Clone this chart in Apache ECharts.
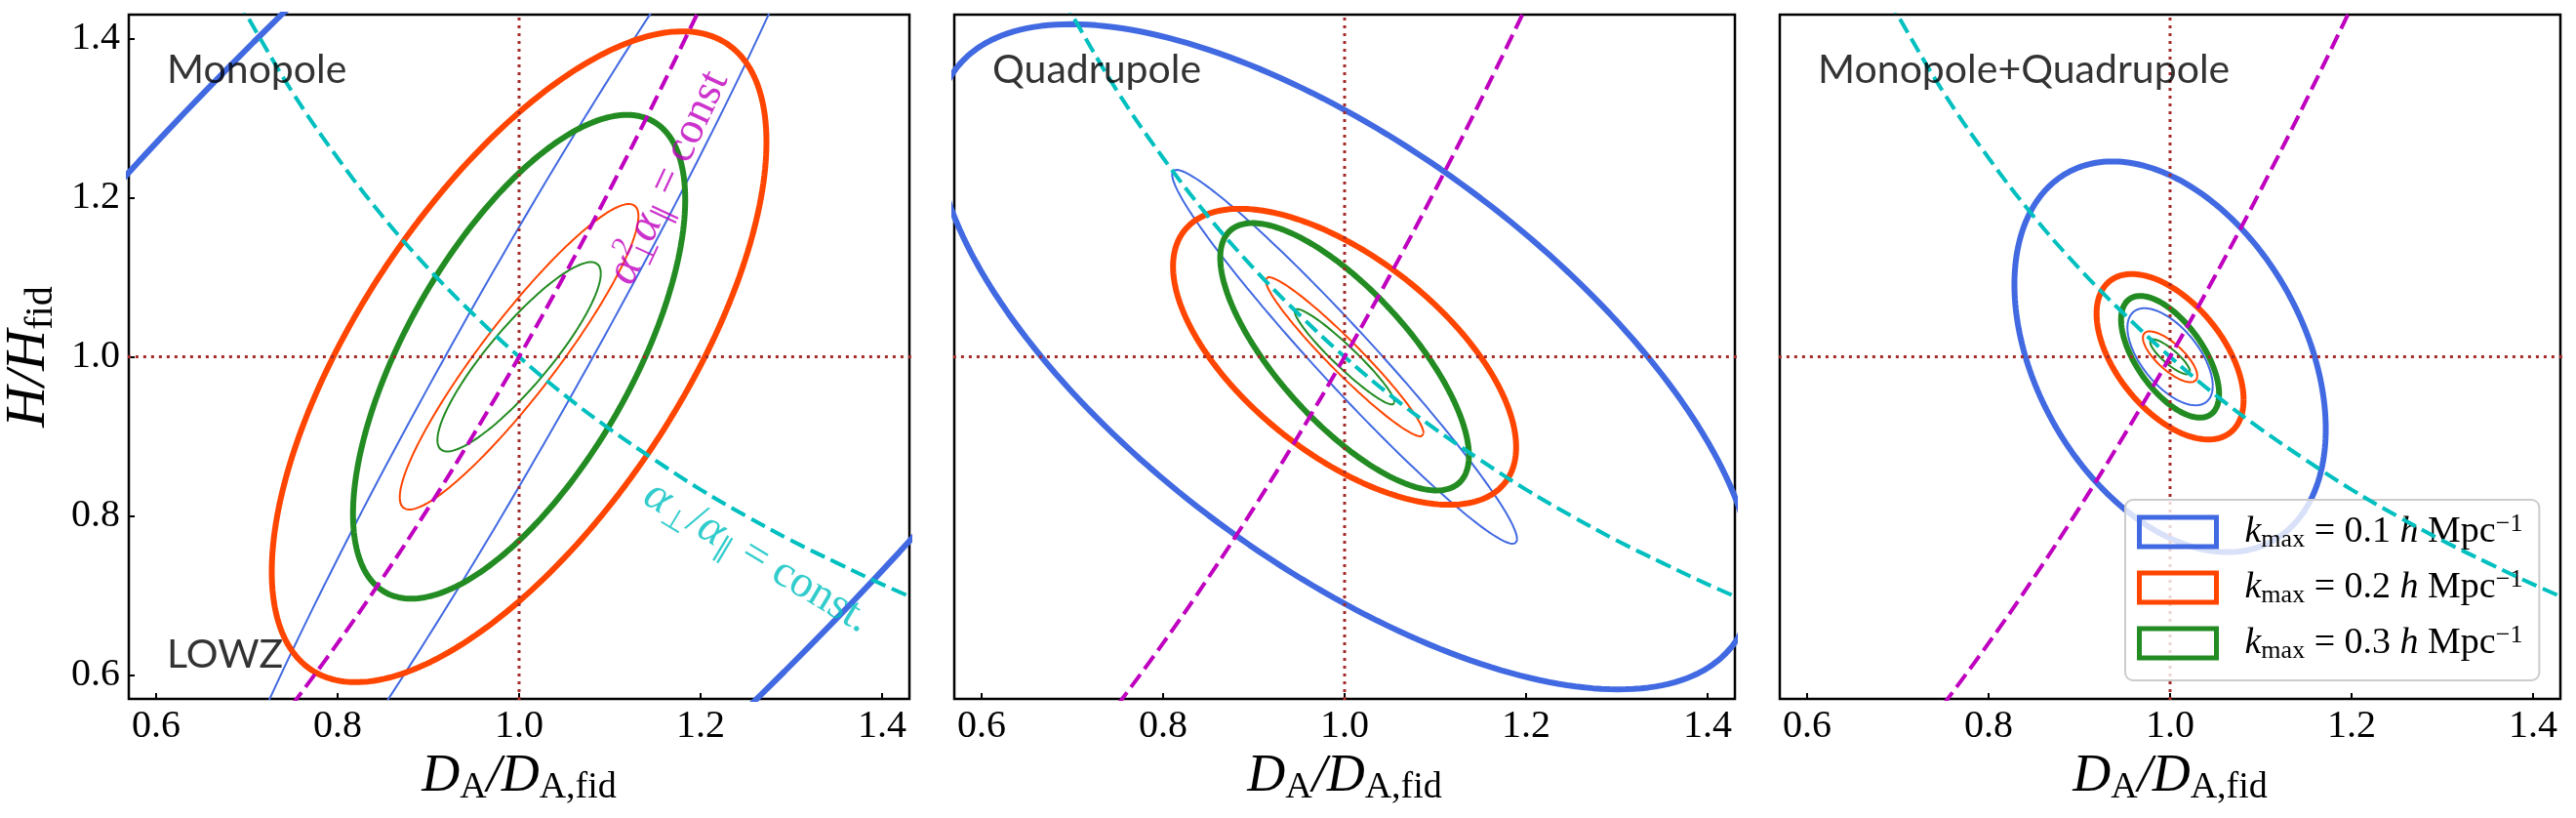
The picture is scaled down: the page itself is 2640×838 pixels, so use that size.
<!DOCTYPE html>
<html>
<head>
<meta charset="utf-8">
<script src="https://cdn.jsdelivr.net/npm/echarts@6/dist/echarts.min.js"></script>
<style>
  html, body { margin: 0; padding: 0; background: #fff; }
  #chart { width: 2640px; height: 838px; }
</style>
</head>
<body>
<div id="chart"></div>
<script>
// ---- data ----
var panelNames = ['Monopole', 'Quadrupole', 'Monopole+Quadrupole'];
var sampleName = 'LOWZ';
var kNames = ['k01', 'k02', 'k03'];
var kLabels = ['0.1', '0.2', '0.3'];
var tickValues = [0.6, 0.8, 1.0, 1.2, 1.4];

// error ellipses: [cx, cy, half x-extent, half y-extent, correlation], order k=0.1,0.2,0.3
var monoThick = [[1, 1, 1.03, 1.19, 0.81], [1, 1, 0.2725, 0.409, 0.66], [1, 1, 0.183, 0.304, 0.65]];
var monoThin  = [[1, 1, 0.36, 0.72, 0.974], [1, 1, 0.1315, 0.192, 0.92], [1, 1, 0.09, 0.119, 0.88]];
var quadThick = [[1, 1, 0.45, 0.418, -0.67], [1, 1, 0.189, 0.186, -0.61], [1, 1, 0.137, 0.168, -0.74]];
var quadThin  = [[1, 1, 0.19, 0.235, -0.975], [1, 1, 0.087, 0.10, -0.96], [1, 1, 0.055, 0.06, -0.95]];
var combThick = [[1, 1, 0.1715, 0.2455, -0.37], [1, 1, 0.081, 0.104, -0.52], [1, 1, 0.054, 0.0765, -0.61]];
var combThin  = [[1, 1, 0.047, 0.061, -0.6], [1, 1, 0.03, 0.032, -0.75], [1, 1, 0.022, 0.022, -0.85]];

// alpha_perp / alpha_par = const  (cyan)
var cyanX = [0.69, 0.70, 0.75, 0.80, 0.85, 0.90, 0.95, 1.00, 1.05, 1.10, 1.15, 1.20, 1.25, 1.30, 1.35, 1.40, 1.44];
var cyanY = [1.449, 1.429, 1.333, 1.25, 1.176, 1.111, 1.053, 1.0, 0.952, 0.909, 0.870, 0.833, 0.80, 0.769, 0.741, 0.714, 0.694];
// alpha_perp^2 alpha_par = const  (magenta)
var magX = [0.75, 0.80, 0.85, 0.90, 0.95, 1.00, 1.05, 1.10, 1.15, 1.20];
var magY = [0.5625, 0.64, 0.7225, 0.81, 0.9025, 1.0, 1.1025, 1.21, 1.3225, 1.44];

var colors = ['#4169e1', '#ff4500', '#228b22'];
var serif = 'Liberation Serif';

function ellipse(e) {
    var pts = [];
    var s = Math.sqrt(1 - e[4] * e[4]);
    for (var i = 0; i <= 240; i++) {
        var t = 2 * Math.PI * i / 240;
        pts.push([e[0] + e[2] * Math.cos(t), e[1] + e[3] * (e[4] * Math.cos(t) + s * Math.sin(t))]);
    }
    return pts;
}
function zip(xs, ys) {
    return xs.map(function (x, i) { return [x, ys[i]]; });
}

var chart = echarts.init(document.getElementById('chart'));

var gridLefts = [132, 978, 1824];
var grids = [], xAxes = [], yAxes = [], series = [];
var thickSets = [monoThick, quadThick, combThick];
var thinSets = [monoThin, quadThin, combThin];

var subRich = {
    i: { fontFamily: serif, fontStyle: 'italic', fontSize: 54, lineHeight: 60, color: '#000' },
    s: { fontFamily: serif, fontSize: 38, lineHeight: 34, verticalAlign: 'bottom', color: '#000' }
};

for (var p = 0; p < 3; p++) {
    grids.push({ left: gridLefts[p], top: 15, width: 800, height: 701, show: true,
        borderColor: '#000', borderWidth: 2.5, backgroundColor: 'transparent' });
    xAxes.push({
        gridIndex: p, type: 'value', min: 0.57, max: 1.43,
        name: '{i|D}{s|A}{i|/D}{s|A,fid}', nameLocation: 'middle', nameGap: 44,
        nameTextStyle: { rich: subRich },
        axisLine: { show: false },
        splitLine: { show: false },
        axisTick: { show: true, inside: true, length: 6, customValues: tickValues,
            lineStyle: { color: '#000', width: 2 } },
        axisLabel: { show: true, customValues: tickValues, margin: 8,
            formatter: function (v) { return v.toFixed(1); },
            fontFamily: serif, fontSize: 40, color: '#000' }
    });
    yAxes.push({
        gridIndex: p, type: 'value', min: 0.57, max: 1.43,
        name: p === 0 ? '{i|H/H}{s|fid}' : '', nameLocation: 'middle', nameGap: 70,
        nameTextStyle: { rich: {
            i: { fontFamily: serif, fontStyle: 'italic', fontSize: 58, lineHeight: 64, color: '#000' },
            s: { fontFamily: serif, fontSize: 40, lineHeight: 36, verticalAlign: 'bottom', color: '#000' }
        } },
        axisLine: { show: false },
        splitLine: { show: false },
        axisTick: { show: p === 0, inside: true, length: 6, customValues: tickValues,
            lineStyle: { color: '#000', width: 2 } },
        axisLabel: { show: p === 0, customValues: tickValues, margin: 9,
            formatter: function (v) { return v.toFixed(1); },
            fontFamily: serif, fontSize: 40, color: '#000' }
    });

    for (var k = 0; k < 3; k++) {
        series.push({
            name: kNames[k], type: 'line', xAxisIndex: p, yAxisIndex: p,
            data: ellipse(thickSets[p][k]), showSymbol: false, symbol: 'none', silent: true,
            lineStyle: { color: colors[k], width: 6 }, itemStyle: { color: colors[k] }, z: 2
        });
        series.push({
            name: kNames[k], type: 'line', xAxisIndex: p, yAxisIndex: p,
            data: ellipse(thinSets[p][k]), showSymbol: false, symbol: 'none', silent: true,
            lineStyle: { color: colors[k], width: 2 }, itemStyle: { color: colors[k] }, z: 2
        });
    }
    // fiducial dotted lines
    series.push({
        type: 'line', xAxisIndex: p, yAxisIndex: p, data: [[1, 0.5], [1, 1.5]],
        showSymbol: false, symbol: 'none', silent: true,
        lineStyle: { color: '#a52a2a', width: 3, type: [3, 5] }, z: 3
    });
    series.push({
        type: 'line', xAxisIndex: p, yAxisIndex: p, data: [[0.5, 1], [1.5, 1]],
        showSymbol: false, symbol: 'none', silent: true,
        lineStyle: { color: '#a52a2a', width: 3, type: [3, 5] }, z: 3
    });
    series.push({
        type: 'line', xAxisIndex: p, yAxisIndex: p, data: zip(cyanX, cyanY), smooth: 0.4,
        showSymbol: false, symbol: 'none', silent: true,
        lineStyle: { color: '#00bfbf', width: 4, type: [16, 7] }, z: 4
    });
    series.push({
        type: 'line', xAxisIndex: p, yAxisIndex: p, data: zip(magX, magY), smooth: 0.4,
        showSymbol: false, symbol: 'none', silent: true,
        lineStyle: { color: '#bf00bf', width: 4, type: [16, 7] }, z: 4
    });
    // panel title
    series.push({
        type: 'scatter', xAxisIndex: p, yAxisIndex: p, data: [[0.612, 1.36]],
        symbolSize: 0, itemStyle: { color: 'rgba(0,0,0,0)' }, silent: true, z: 6,
        label: { show: true, position: 'right', distance: 0, formatter: panelNames[p],
            fontFamily: 'Lato', fontSize: 41, color: '#000' }
    });
}

// sample name + curve labels in the first panel
series.push({
    type: 'scatter', xAxisIndex: 0, yAxisIndex: 0, data: [[0.612, 0.626]],
    symbolSize: 0, itemStyle: { color: 'rgba(0,0,0,0)' }, silent: true, z: 6,
    label: { show: true, position: 'right', distance: 0, formatter: sampleName,
        fontFamily: 'Lato', fontSize: 41, color: '#000' }
});
var mathRich = function (c) {
    return {
        a: { fontFamily: serif, fontStyle: 'italic', fontSize: 48, lineHeight: 54, color: c, align: 'left' },
        s: { fontFamily: serif, fontSize: 30, lineHeight: 26, verticalAlign: 'bottom', color: c, align: 'left' },
        w: { fontFamily: serif, fontSize: 30, lineHeight: 26, verticalAlign: 'bottom', color: c, width: 1, align: 'left' },
        p: { fontFamily: serif, fontSize: 30, lineHeight: 26, verticalAlign: 'top', color: c, align: 'left' },
        t: { fontFamily: serif, fontSize: 46, lineHeight: 54, color: c, align: 'left' }
    };
};
series.push({
    type: 'scatter', xAxisIndex: 0, yAxisIndex: 0, data: [[1.165, 1.225]],
    symbolSize: 0, itemStyle: { color: 'rgba(0,0,0,0)' }, silent: true, z: 6,
    label: { show: true, position: 'inside', rotate: 65, align: 'center', verticalAlign: 'middle',
        formatter: '{a|α}{w|⊥}{p|2 }{a|α}{s|∥}{t| = const}', rich: mathRich('#bf00bf') }
});
series.push({
    type: 'scatter', xAxisIndex: 0, yAxisIndex: 0, data: [[1.262, 0.748]],
    symbolSize: 0, itemStyle: { color: 'rgba(0,0,0,0)' }, silent: true, z: 6,
    label: { show: true, position: 'inside', rotate: -31, align: 'center', verticalAlign: 'middle',
        formatter: '{a|α}{s|⊥}{t|/}{a|α}{s|∥}{t| = const.}', rich: mathRich('#00bfbf') }
});

var option = {
    animation: false,
    backgroundColor: '#fff',
    grid: grids,
    xAxis: xAxes,
    yAxis: yAxes,
    legend: {
        orient: 'vertical', left: 2178, top: 512,
        padding: [12, 17, 17, 12],
        itemWidth: 79, itemHeight: 30, itemGap: 15,
        backgroundColor: 'rgba(255,255,255,0.8)', borderColor: '#cccccc', borderWidth: 2, borderRadius: 8,
        selectedMode: false,
        data: kNames.map(function (n, i) {
            return { name: n, icon: 'rect',
                itemStyle: { color: 'rgba(0,0,0,0)', borderColor: colors[i], borderWidth: 5 } };
        }),
        formatter: function (name) {
            return '{g|}{k|k}{sb|max}{t| = ' + kLabels[kNames.indexOf(name)] + ' }{k|h}{t| Mpc}{sp|−1}';
        },
        textStyle: { rich: {
            g: { width: 24 },
            k: { fontFamily: serif, fontStyle: 'italic', fontSize: 38, lineHeight: 42, color: '#000' },
            t: { fontFamily: serif, fontSize: 38, lineHeight: 42, color: '#000' },
            sb: { fontFamily: serif, fontSize: 26, lineHeight: 26, verticalAlign: 'bottom', color: '#000' },
            sp: { fontFamily: serif, fontSize: 26, lineHeight: 26, verticalAlign: 'top', color: '#000' }
        } }
    },
    series: series
};
chart.setOption(option);
</script>
</body>
</html>
